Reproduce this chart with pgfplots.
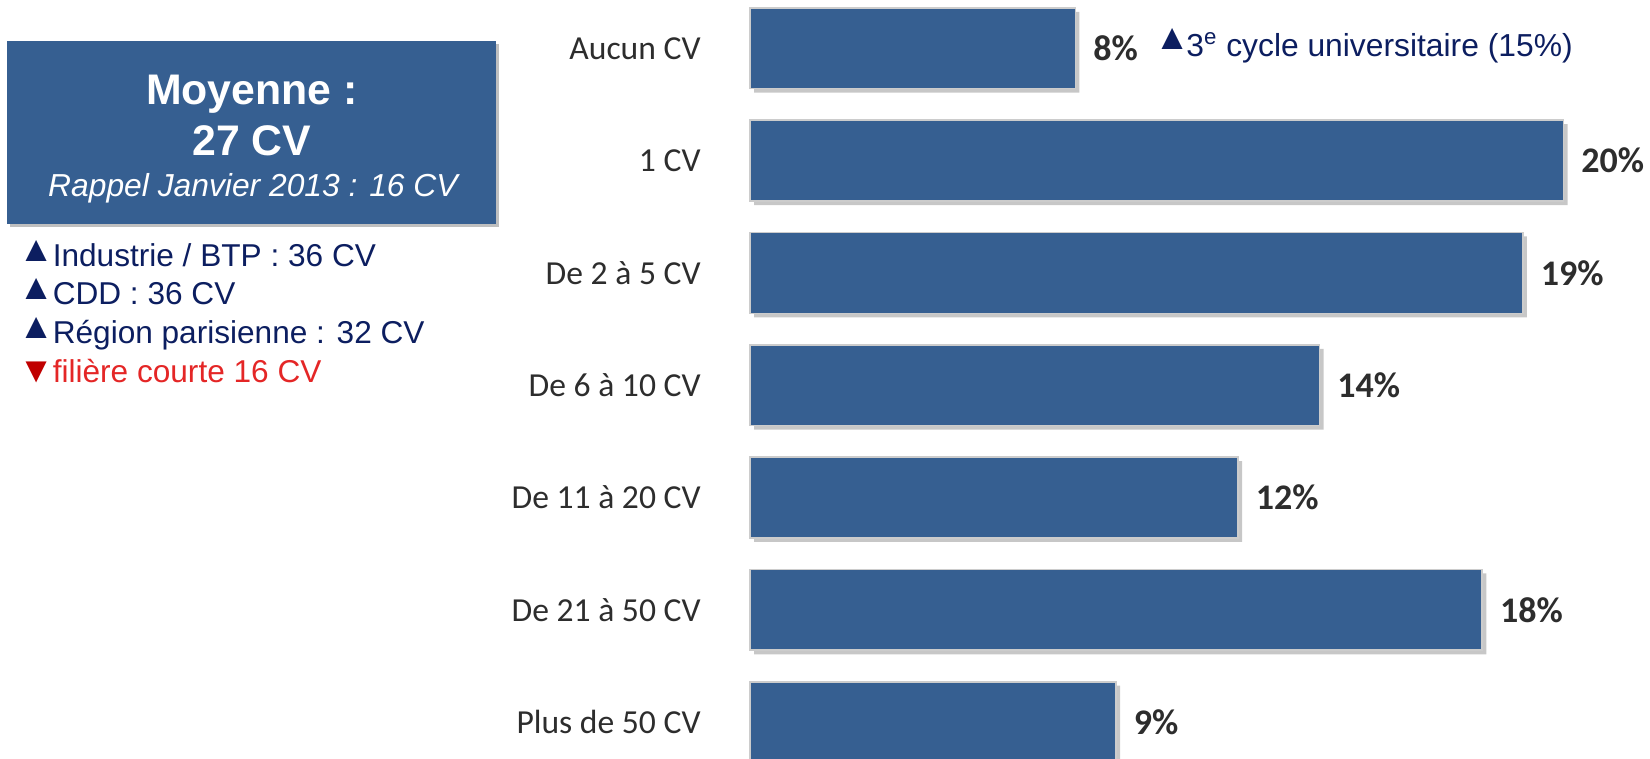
\documentclass[border=0pt]{standalone}
\usepackage{pgfplots}
\pgfplotsset{compat=1.18}
\usepackage{pgfplotstable}
\usepackage{fontspec}
\setmainfont{Liberation Sans}
\newfontfamily\calfont{Carlito}
\definecolor{barblue}{RGB}{54,95,145}
\definecolor{navy}{RGB}{12,30,96}
\definecolor{redtxt}{RGB}{228,38,38}
\definecolor{reddark}{RGB}{192,0,0}
\definecolor{labgray}{RGB}{45,45,45}
\newcommand{\up}{\makebox[17.2pt][l]{\raisebox{2.5pt}{\fontsize{18}{18}\selectfont ▲}}}
\newcommand{\down}{\makebox[17.2pt][l]{\raisebox{0.25pt}{\fontsize{18}{18}\selectfont\color{reddark}▼}}}

\pgfplotstableread{
idx val
0 8
1 20
2 19
3 14
4 12
5 18
6 9
}\cvdata

\begin{document}
\begin{tikzpicture}
\useasboundingbox (0,0) rectangle (825pt,-379.5pt);
\begin{axis}[
  at={(375pt,3.95pt)}, anchor=north west,
  scale only axis, width=447.5pt, height=393.1pt,
  xmin=0, xmax=22, ymin=-0.5, ymax=6.5, y dir=reverse,
  xbar, bar width=0.72,
  axis line style={draw=none},
  xtick=\empty,
  ytick={0,...,6},
  yticklabels={Aucun CV, 1 CV, De 2 à 5 CV, De 6 à 10 CV, De 11 à 20 CV, De 21 à 50 CV, Plus de 50 CV},
  major tick length=0pt,
  yticklabel style={anchor=east, inner sep=0pt, xshift=-24.5pt, font=\calfont\fontsize{16.8}{20}\selectfont, text=labgray},
  /pgf/number format/assume math mode=true,
  clip=false,
]
\addplot[fill=black!22, draw=none, bar shift=0pt, xshift=2pt, yshift=-2pt, forget plot] table[x=val,y=idx]{\cvdata};
\addplot[fill=barblue, draw=black!20, line width=0.8pt, bar shift=0pt,
  nodes near coords={\pgfmathprintnumber{\pgfplotspointmeta}\%},
  point meta=x,
  every node near coord/.append style={anchor=west, inner sep=0pt, xshift=8.5pt, font=\calfont\bfseries\fontsize{18}{20}\selectfont, text=labgray}] table[x=val,y=idx]{\cvdata};
\end{axis}
\begin{scope}[x=0.5pt,y=-0.5pt]
  \fill[black!25] (10,44) rectangle (499,227);
  \fill[barblue] (7,41) rectangle (496,224);
  \node[anchor=base, inner sep=0pt, text=white, font=\bfseries\fontsize{21.4}{25}\selectfont] at (252,104.4) {Moyenne :};
  \node[anchor=base, inner sep=0pt, text=white, font=\bfseries\fontsize{21.4}{25}\selectfont] at (252,156) {27 CV};
  \node[anchor=base, inner sep=0pt, text=white, font=\itshape\fontsize{15.9}{19}\selectfont] at (253,197) {Rappel Janvier 2013 : 16 CV};
  % bullets
  \node[anchor=base west, inner sep=0pt, text=navy, font=\fontsize{15.8}{18}\selectfont] at (18,266.6) {\up Industrie / BTP : 36 CV};
  \node[anchor=base west, inner sep=0pt, text=navy, font=\fontsize{15.8}{18}\selectfont] at (18,304.5) {\up CDD : 36 CV};
  \node[anchor=base west, inner sep=0pt, text=navy, font=\fontsize{15.8}{18}\selectfont] at (18,343.7) {\up Région parisienne : 32 CV};
  \node[anchor=base west, inner sep=0pt, text=redtxt, font=\fontsize{15.8}{18}\selectfont] at (18,382.5) {\down filière courte 16 CV};
  % annotation
  \node[anchor=base west, inner sep=0pt, text=navy, font=\fontsize{15.9}{18}\selectfont] at (1154,57) {\makebox[16pt][l]{\raisebox{3.5pt}{\fontsize{18}{18}\selectfont ▲}}3\textsuperscript{e} cycle universitaire (15\%)};
\end{scope}
\end{tikzpicture}
\end{document}
